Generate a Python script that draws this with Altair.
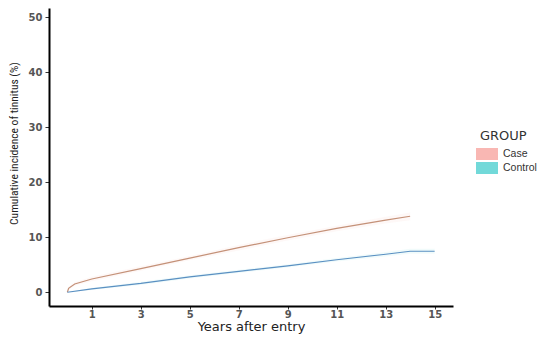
import altair as alt
import pandas as pd

# ---- data ----
case_years = [0, 0.05, 0.3, 1, 3, 5, 7, 9, 11, 13, 14]
case_inc = [0.0, 0.7, 1.5, 2.4, 4.3, 6.2, 8.1, 9.9, 11.6, 13.1, 13.8]
case_lo = [0.0, 0.4, 1.2, 2.0, 3.9, 5.8, 7.6, 9.4, 11.1, 12.5, 13.1]
case_hi = [0.0, 1.0, 1.8, 2.8, 4.7, 6.6, 8.6, 10.4, 12.1, 13.7, 14.5]

ctrl_years = [0, 1, 3, 5, 7, 9, 11, 13, 14, 15]
ctrl_inc = [0.0, 0.6, 1.6, 2.8, 3.8, 4.8, 5.9, 6.9, 7.45, 7.45]
ctrl_lo = [0.0, 0.4, 1.3, 2.5, 3.5, 4.5, 5.6, 6.5, 7.0, 7.0]
ctrl_hi = [0.0, 0.8, 1.9, 3.1, 4.1, 5.1, 6.2, 7.3, 7.9, 7.9]

groups = ["Case", "Control"]
x_ticks = [1, 3, 5, 7, 9, 11, 13, 15]
y_ticks = [0, 10, 20, 30, 40, 50]

rows = []
for g, xs, ys, lo, hi in [("Case", case_years, case_inc, case_lo, case_hi),
                          ("Control", ctrl_years, ctrl_inc, ctrl_lo, ctrl_hi)]:
    for i in range(len(xs)):
        rows.append({"group": g, "year": xs[i], "inc": ys[i], "lo": lo[i], "hi": hi[i]})
df = pd.DataFrame(rows)

xscale = alt.Scale(domain=[-0.75, 15.75], nice=False, zero=False)
yscale = alt.Scale(domain=[-2.5, 51.64], nice=False, zero=False)

fill_scale = alt.Scale(domain=groups, range=["#F9B7B3", "#72D9D9"])
line_scale = alt.Scale(domain=groups, range=["#C49178", "#5A90C2"])

base = alt.Chart(df)

band = base.mark_area(opacity=0.10).encode(
    x=alt.X("year:Q", scale=xscale),
    y=alt.Y("lo:Q", scale=yscale),
    y2="hi:Q",
    fill=alt.Fill("group:N", scale=fill_scale,
                  legend=alt.Legend(title="GROUP", orient="none", legendX=431, legendY=122,
                                    symbolType="M-1.57,-0.86H1.57V0.86H-1.57Z", symbolSize=196,
                                    symbolOpacity=1, symbolStrokeWidth=0,
                                    titleFont="DejaVu Sans", titleFontSize=13, titleFontWeight="normal",
                                    titleColor="#333333", labelFont="Liberation Sans", labelFontSize=10.5,
                                    labelColor="#333333", labelOffset=9, rowPadding=0, titlePadding=4)),
    detail="group:N",
)

lines = base.mark_line(strokeWidth=1.2).encode(
    x=alt.X("year:Q", scale=xscale,
            axis=alt.Axis(values=x_ticks, title="Years after entry", grid=False,
                          domainColor="black", domainWidth=2, tickColor="#333333",
                          tickSize=3, labelPadding=0, labelColor="#555555",
                          labelFont="DejaVu Sans", labelFontSize=10, labelFontWeight="bold",
                          titleFont="DejaVu Sans", titleFontSize=13, titleFontWeight="normal",
                          titleColor="#222222", titlePadding=1)),
    y=alt.Y("inc:Q", scale=yscale,
            axis=alt.Axis(values=y_ticks, title="Cumulative incidence of tinnitus (%)", grid=False,
                          domainColor="black", domainWidth=2, tickColor="#333333",
                          tickSize=4, labelPadding=3, labelColor="#555555",
                          labelFont="DejaVu Sans", labelFontSize=10, labelFontWeight="bold",
                          titleFont="Roboto Condensed",
                          titleFontSize=11.5, titleFontWeight="normal", titleColor="#222222",
                          titleY=135, titlePadding=9)),
    stroke=alt.Stroke("group:N", scale=line_scale, legend=None),
)

chart = alt.layer(band, lines).properties(
    width=404, height=298,
    autosize=alt.AutoSizeParams(type="none"),
    padding={"left": 41, "top": 0, "right": 89, "bottom": 40},
).configure_view(stroke=None)

chart.save("out.html", embed_options={"renderer": "svg", "actions": False})
